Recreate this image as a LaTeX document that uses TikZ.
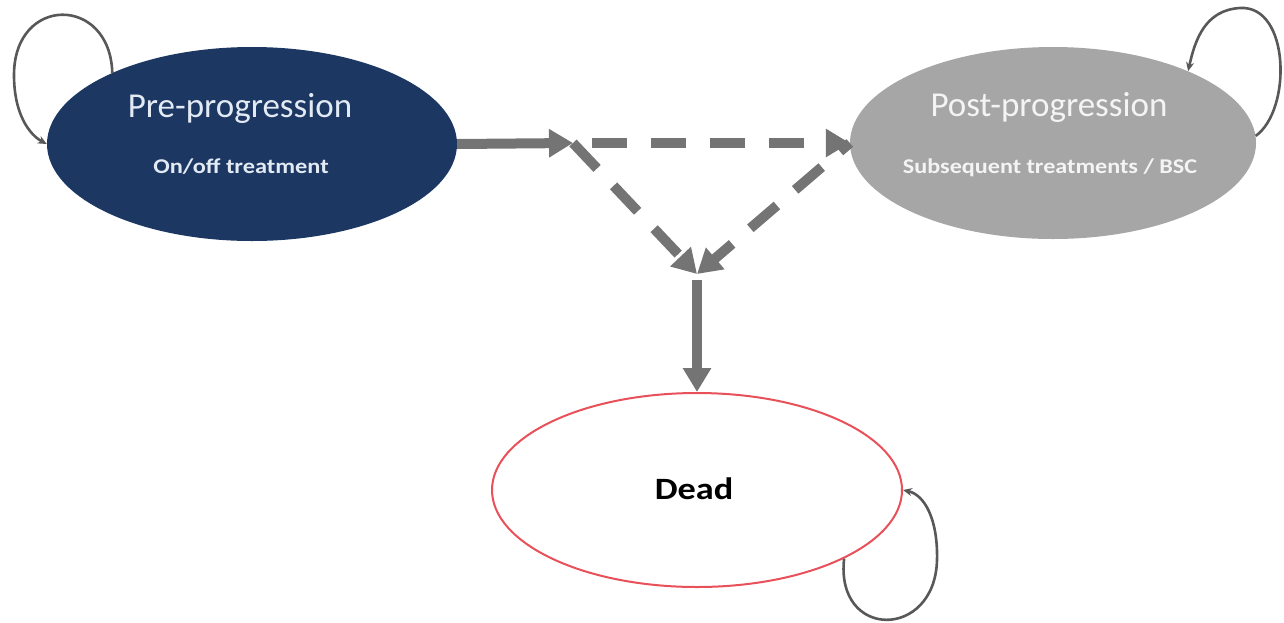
\documentclass[tikz,border=0pt]{standalone}
\usepackage{fontspec}
\setmainfont{Carlito}
\usetikzlibrary{arrows.meta,shapes.geometric}
\definecolor{navy}{HTML}{1D3763}
\definecolor{postgray}{HTML}{A6A6A6}
\definecolor{deadred}{HTML}{E8505A}
\definecolor{arrgray}{HTML}{747474}
\definecolor{loopgray}{HTML}{585858}
\definecolor{pretext}{HTML}{E2EAF4}
\definecolor{posttext}{HTML}{F4F4F4}
\tikzset{
  statebox/.style={ellipse, minimum width=410pt, minimum height=194pt, inner sep=0pt, align=center},
  bigarrow/.style={draw=arrgray, line width=10pt, -{Triangle[length=24pt,width=27pt]}},
  dasharrow/.style={bigarrow, dash pattern=on 35pt off 24pt},
  selfloop/.style={draw=loopgray, line width=2.6pt, -{Stealth[length=9pt,width=8pt]}},
  titletext/.style={font=\fontsize{35}{40}\selectfont},
  subtext/.style={font=\bfseries\fontsize{21}{25}\selectfont},
}
\begin{document}
\begin{tikzpicture}[x=1pt,y=-1pt]
\useasboundingbox (0,0) rectangle (1284,622);
\node[statebox, fill=navy] (pre) at (252,144) {};
\node[statebox, fill=postgray, minimum width=406pt, minimum height=192pt] (post) at (1053,143) {};
\node[statebox, draw=deadred, line width=2pt, fill=white] (dead) at (697,490) {};
\node[titletext, text=pretext] (pret) at (240,108) {Pre-progression};
\node[subtext, text=pretext] (pres) at (241,167) {\scalebox{1.16}[1]{On/off treatment}};
\node[titletext, text=posttext] (postt) at (1049,107) {Post-progression};
\node[subtext, text=posttext] (posts) at (1050,168) {\scalebox{1.15}[1]{Subsequent treatments / BSC}};
\node[font=\bfseries\fontsize{31}{36}\selectfont] (deadt) at (694,489) {\scalebox{1.17}[1]{Dead}};
\coordinate (j1) at (573,143);
\coordinate (j2) at (697,274);
\coordinate (j3) at (697,280);
\draw[bigarrow] (pre.east) -- (j1);
\draw[dasharrow, dash phase=-19pt] (j1) -- (post.west);
\draw[dasharrow] (j1) -- (j2);
\draw[dasharrow, dash phase=22pt] (post.west) -- (j2);
\draw[bigarrow] (j3) -- (dead.north);
\draw[selfloop] (pre.153) .. controls (110,-5) and (14,-5) .. (14,75) .. controls (14,115) and (30,135) .. (pre.west);
\draw[selfloop] (post.2) .. controls (1292,110) and (1290,5) .. (1240,8) .. controls (1205,10) and (1195,40) .. (post.28);
\draw[selfloop] (dead.-25) .. controls (835,640) and (935,640) .. (937,560) .. controls (938,520) and (925,495) .. (dead.east);
\end{tikzpicture}
\end{document}
